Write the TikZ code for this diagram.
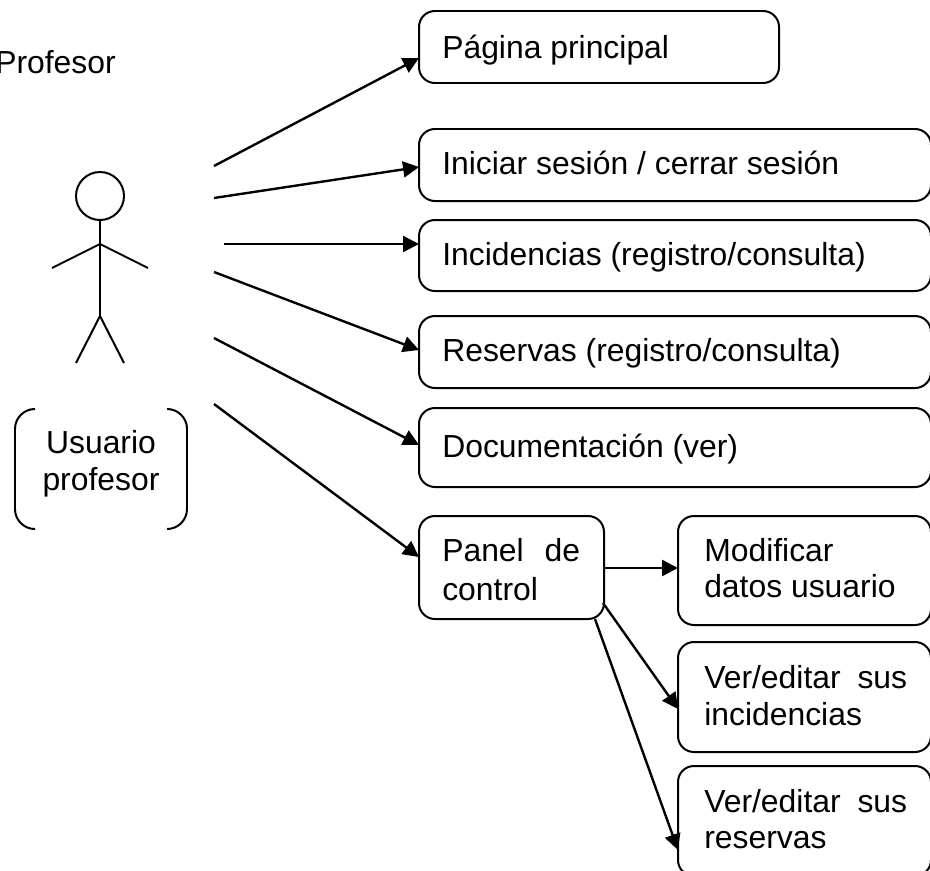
\documentclass[tikz,border=0pt]{standalone}
\usepackage{fontspec}
\setmainfont{Liberation Sans}
\usetikzlibrary{arrows.meta,calc}
\tikzset{x=0.02646cm,y=-0.02646cm,
 rbox/.style={draw,line width=1.5pt,rounded corners=12pt,anchor=north west,inner sep=0pt,outer sep=0pt},
 lab/.style={font=\fontsize{24}{30}\selectfont,anchor=base west,inner sep=0pt},
 arr/.style={line width=1.8pt,-{Triangle[length=12pt,width=12pt]}},
 stick/.style={line width=1.5pt},
 bracket/.style={line width=1.5pt,rounded corners=15pt}}
\newcommand{\boxn}[5]{\node[rbox,minimum width={#4*0.02646cm},minimum height={#5*0.02646cm}] (#1) at (#2,#3) {};}
\newcommand{\fr}[3]{($(#1.north west)+(#2,#3)$)}
\begin{document}
\begin{tikzpicture}
\useasboundingbox (0,0) rectangle (930,870);
\boxn{a1}{419}{11}{360}{72}
\boxn{a2}{419}{129}{512}{72}
\boxn{a3}{419}{220}{512}{71}
\boxn{a4}{419}{316}{512}{72}
\boxn{a5}{419}{408}{512}{79}
\boxn{a6}{419}{516}{185}{103}
\boxn{b1}{678}{516}{253}{109}
\boxn{b2}{678}{642}{253}{110}
\boxn{b3}{678}{766}{253}{110}
\node[lab] (t0) at (-5,73) {Profesor};
\node[lab] (t1) at (442,58) {Página principal};
\node[lab] (t2) at (442,174) {Iniciar sesión / cerrar sesión};
\node[lab] (t3) at (442,265) {Incidencias (registro/consulta)};
\node[lab] (t4) at (442,361) {Reservas (registro/consulta)};
\node[lab] (t5) at (442,457) {Documentación (ver)};
\node[lab] (t6) at (442,561) {Panel\hspace{9pt} de};
\node[lab] (t6b) at (442,600) {control};
\node[lab] (t7) at (704,561) {Modificar};
\node[lab] (t7b) at (704,597) {datos usuario};
\node[lab] (t8) at (704,688) {Ver/editar\hspace{6pt} sus};
\node[lab] (t8b) at (704,725) {incidencias};
\node[lab] (t9) at (704,812) {Ver/editar\hspace{6pt} sus};
\node[lab] (t9b) at (704,848) {reservas};
\node[lab,anchor=base] (u1) at (101,453) {Usuario};
\node[lab,anchor=base] (u2) at (101,490) {profesor};
% actor
\node[draw,circle,line width=1.5pt,minimum size={48*0.02646cm},inner sep=0pt,outer sep=0pt] (head) at (100,196) {};
\coordinate (neck) at (100,244);
\coordinate (hip) at (100,316);
\coordinate (handl) at (52,268);
\coordinate (handr) at (148,268);
\coordinate (footl) at (76,363);
\coordinate (footr) at (124,363);
\draw[stick] (head.south) -- (hip);
\draw[stick] (handl) -- (neck) -- (handr);
\draw[stick] (footl) -- (hip) -- (footr);
% brackets
\draw[bracket] (35,409) -- (15,409) -- (15,529) -- (35,529);
\draw[bracket] (167,409) -- (187,409) -- (187,529) -- (167,529);
% connectors
\coordinate (s1) at (214,166);
\coordinate (s2) at (214,198);
\coordinate (s3) at (224,244);
\coordinate (s4) at (214,272);
\coordinate (s5) at (214,338);
\coordinate (s6) at (214,404);
\draw[arr] (s1) -- \fr{a1}{0}{47};
\draw[arr] (s2) -- \fr{a2}{0}{38};
\draw[arr] (s3) -- \fr{a3}{0}{24};
\draw[arr] (s4) -- \fr{a4}{0}{34};
\draw[arr] (s5) -- \fr{a5}{0}{37};
\draw[arr] (s6) -- \fr{a6}{0}{41};
\draw[arr] \fr{a6}{185}{52} -- \fr{b1}{0}{52};
\draw[arr] \fr{a6}{184}{87} -- \fr{b2}{0}{67};
\draw[arr] \fr{a6}{176}{103} -- \fr{b3}{0}{84};
\end{tikzpicture}
\end{document}
